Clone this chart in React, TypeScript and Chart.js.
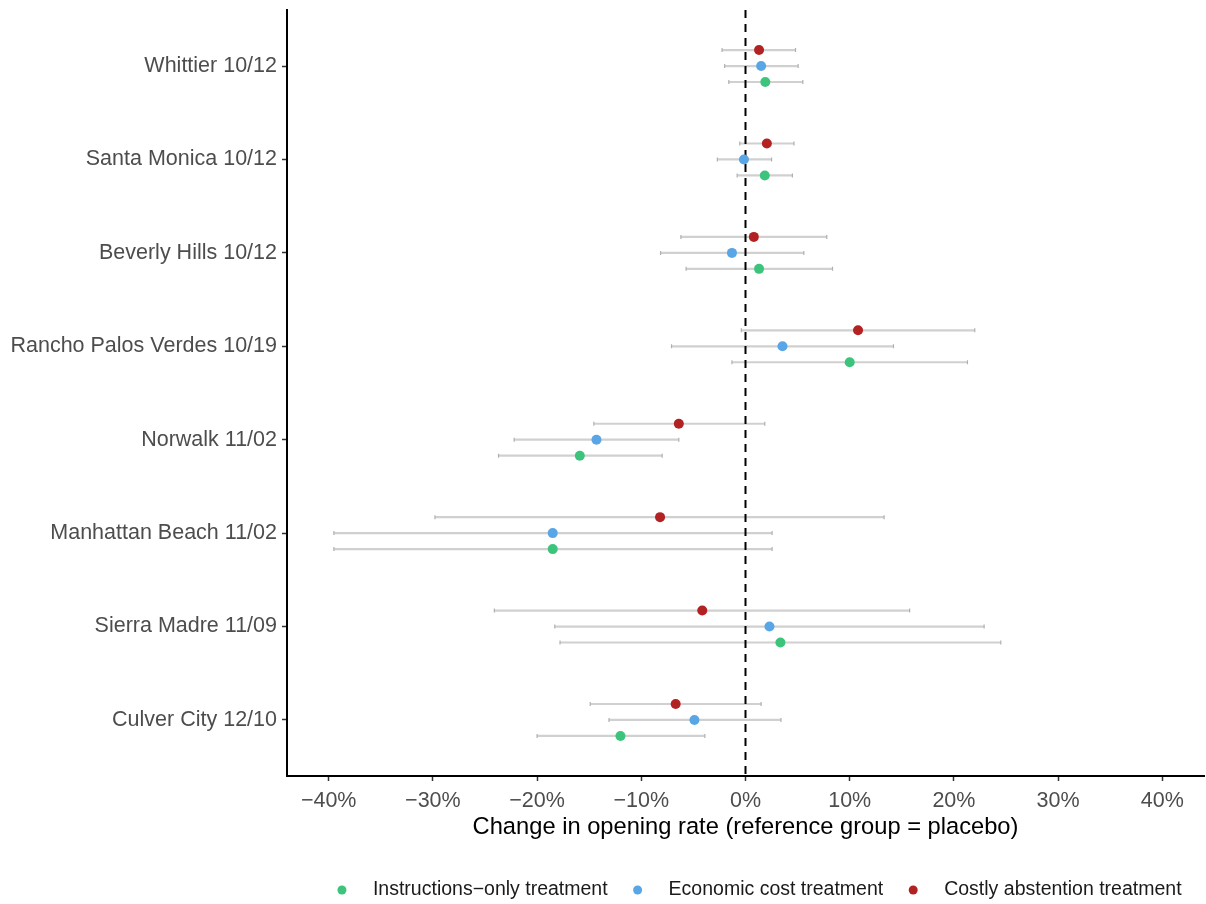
import React, { useEffect, useRef } from 'react';
import { Chart, registerables } from 'chart.js';

Chart.register(...registerables);

const sites = [
  'Whittier 10/12',
  'Santa Monica 10/12',
  'Beverly Hills 10/12',
  'Rancho Palos Verdes 10/19',
  'Norwalk 11/02',
  'Manhattan Beach 11/02',
  'Sierra Madre 11/09',
  'Culver City 12/10',
];
const seriesNames = ['Instructions−only treatment', 'Economic cost treatment', 'Costly abstention treatment'];
const seriesColors = ['#3cc47c', '#58a6e6', '#b22222'];
const xTicks = [-40, -30, -20, -10, 0, 10, 20, 30, 40];

const instrEst = [1.9, 1.85, 1.3, 10.0, -15.9, -18.5, 3.35, -12.0];
const instrLo = [-1.6, -0.8, -5.7, -1.3, -23.7, -39.5, -17.8, -20.0];
const instrHi = [5.5, 4.5, 8.35, 21.3, -8.0, 2.55, 24.5, -3.9];

const econEst = [1.5, -0.15, -1.3, 3.55, -14.3, -18.5, 2.3, -4.9];
const econLo = [-2.0, -2.7, -8.15, -7.1, -22.2, -39.5, -18.3, -13.1];
const econHi = [5.05, 2.5, 5.6, 14.2, -6.4, 2.55, 22.9, 3.4];

const costEst = [1.3, 2.05, 0.8, 10.8, -6.4, -8.2, -4.15, -6.7];
const costLo = [-2.25, -0.55, -6.2, -0.4, -14.55, -29.8, -24.1, -14.9];
const costHi = [4.8, 4.65, 7.8, 22.0, 1.85, 13.3, 15.75, 1.5];

const seriesOffsets = [0.171, 0, -0.171];

const FONT = '"Liberation Sans", Arial, Helvetica, sans-serif';

export default function App() {
  const ref = useRef<HTMLCanvasElement | null>(null);

  useEffect(() => {
    const canvas = ref.current;
    if (!canvas) return;
    const ests = [instrEst, econEst, costEst];
    const los = [instrLo, econLo, costLo];
    const his = [instrHi, econHi, costHi];

    const datasets = ests.map((est, s) => ({
      label: seriesNames[s],
      data: est.map((v, i) => ({ x: v, y: i + 1 + seriesOffsets[s] })),
      lo: los[s],
      hi: his[s],
      backgroundColor: seriesColors[s],
      borderColor: seriesColors[s],
      borderWidth: 0,
      pointRadius: 5,
      pointHoverRadius: 5,
    }));

    const errorBars = {
      id: 'errorBars',
      beforeDatasetsDraw(chart: any) {
        const { ctx, scales, chartArea } = chart;
        const xs = scales.x;
        const ys = scales.y;
        ctx.save();
        chart.data.datasets.forEach((ds: any, s: number) => {
          ds.lo.forEach((lo: number, i: number) => {
            const hi = ds.hi[i];
            const y = ys.getPixelForValue(i + 1 + seriesOffsets[s]);
            const x1 = xs.getPixelForValue(lo);
            const x2 = xs.getPixelForValue(hi);
            ctx.strokeStyle = '#d0d0d0';
            ctx.lineWidth = 2.2;
            ctx.setLineDash([]);
            ctx.beginPath();
            ctx.moveTo(x1, y);
            ctx.lineTo(x2, y);
            ctx.stroke();
            ctx.strokeStyle = '#b0b0b0';
            ctx.lineWidth = 1.2;
            ctx.beginPath();
            ctx.moveTo(x1, y - 2);
            ctx.lineTo(x1, y + 2);
            ctx.moveTo(x2, y - 2);
            ctx.lineTo(x2, y + 2);
            ctx.stroke();
          });
        });
        const x0 = xs.getPixelForValue(0);
        ctx.strokeStyle = '#000000';
        ctx.lineWidth = 2;
        ctx.setLineDash([8, 6]);
        ctx.beginPath();
        ctx.moveTo(x0, chartArea.top);
        ctx.lineTo(x0, chartArea.bottom);
        ctx.stroke();
        ctx.restore();
      },
    };

    const bottomLegend = {
      id: 'bottomLegend',
      afterDraw(chart: any) {
        const { ctx } = chart;
        ctx.save();
        ctx.font = `19.5px ${FONT}`;
        ctx.textBaseline = 'middle';
        ctx.textAlign = 'left';
        const dotR = 4.5;
        const dotToText = 31;
        const itemGap = 30;
        const widths = seriesNames.map((n) => ctx.measureText(n).width);
        const total =
          dotR + widths.reduce((a, w) => a + dotToText + w, 0) + itemGap * (seriesNames.length - 1);
        let x = 759.5 - total / 2 + dotR;
        const y = 890;
        seriesNames.forEach((n, s) => {
          ctx.fillStyle = seriesColors[s];
          ctx.beginPath();
          ctx.arc(x, y, dotR, 0, Math.PI * 2);
          ctx.fill();
          ctx.fillStyle = '#1a1a1a';
          ctx.fillText(n, x + dotToText, y);
          x += dotToText + widths[s] + itemGap;
        });
        ctx.restore();
      },
    };

    const chart = new Chart(canvas, {
      type: 'scatter',
      data: { datasets } as any,
      options: {
        responsive: false,
        animation: false,
        events: [],
        layout: { padding: { top: 10, right: 2, bottom: 58, left: 0 } },
        plugins: {
          legend: { display: false },
          tooltip: { enabled: false },
        },
        scales: {
          x: {
            type: 'linear',
            min: -44,
            max: 44,
            afterBuildTicks: (s: any) => {
              s.ticks = xTicks.map((v) => ({ value: v }));
            },
            afterFit: (s: any) => {
              s.height = 70;
              s.paddingLeft = 0;
              s.paddingRight = 0;
            },
            ticks: {
              callback: (v: any) => (v < 0 ? '−' : '') + Math.abs(v) + '%',
              color: '#4d4d4d',
              font: { family: FONT, size: 21.5 },
              padding: 7,
              maxRotation: 0,
            },
            grid: {
              drawOnChartArea: false,
              drawTicks: true,
              tickLength: 5,
              tickColor: '#333333',
              tickWidth: 1.5,
            },
            border: { color: '#000000', width: 2 },
            title: {
              display: true,
              text: 'Change in opening rate (reference group = placebo)',
              color: '#000000',
              font: { family: FONT, size: 23.7 },
              padding: { top: 4, bottom: 4 },
            },
          },
          y: {
            type: 'linear',
            min: 0.4,
            max: 8.6,
            reverse: true,
            afterBuildTicks: (s: any) => {
              s.ticks = sites.map((_, i) => ({ value: i + 1 }));
            },
            afterFit: (s: any) => {
              s.width = 287;
              s.paddingTop = 0;
              s.paddingBottom = 0;
            },
            ticks: {
              callback: (v: any) => sites[Math.round(v) - 1] ?? '',
              color: '#4d4d4d',
              font: { family: FONT, size: 21.5 },
              padding: 5,
            },
            grid: {
              drawOnChartArea: false,
              drawTicks: true,
              tickLength: 5,
              tickColor: '#333333',
              tickWidth: 1.5,
            },
            border: { color: '#000000', width: 2 },
          },
        },
      } as any,
      plugins: [errorBars, bottomLegend],
    });
    return () => chart.destroy();
  }, []);

  return (
    <div
      style={{
        position: 'absolute',
        left: 0,
        top: 0,
        width: 1206,
        height: 904,
        overflow: 'hidden',
        background: '#ffffff',
      }}
    >
      <canvas ref={ref} width={1209} height={904} />
    </div>
  );
}
